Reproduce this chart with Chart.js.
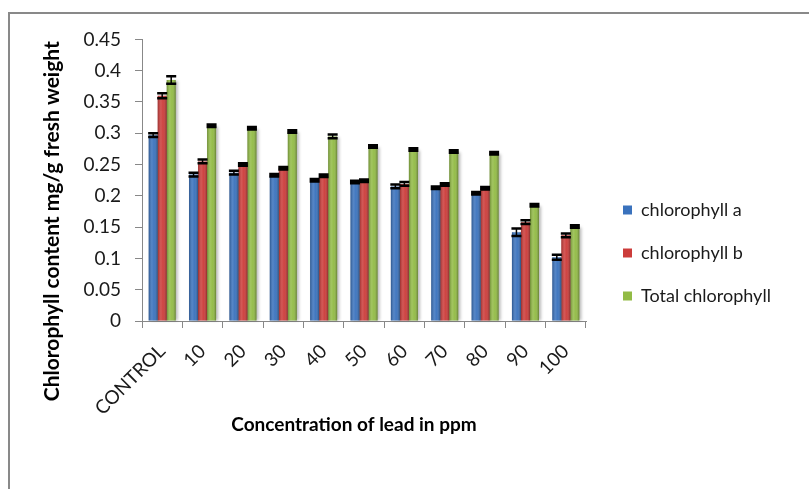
<!DOCTYPE html>
<html>
<head>
<meta charset="utf-8">
<script src="https://cdn.jsdelivr.net/npm/chart.js@4.4.1/dist/chart.umd.min.js"></script>
<style>
  html, body { margin: 0; padding: 0; background: #fff; overflow: hidden; }
  .line { position: absolute; background: #898989; }
  #wrap { position: absolute; left: 10px; top: 14px; width: 799px; height: 475px; }
</style>
</head>
<body>
<div class="line" style="left:8px; top:12px; width:801px; height:2px;"></div>
<div class="line" style="left:8px; top:12px; width:2px; height:477px;"></div>
<div id="wrap"><canvas id="chart"></canvas></div>
<script>
const categories = ['CONTROL', '10', '20', '30', '40', '50', '60', '70', '80', '90', '100'];
const chlA = [0.297, 0.234, 0.237, 0.233, 0.225, 0.222, 0.215, 0.213, 0.204, 0.142, 0.102];
const chlB = [0.360, 0.255, 0.250, 0.244, 0.232, 0.224, 0.219, 0.218, 0.212, 0.158, 0.137];
const chlTotal = [0.385, 0.312, 0.308, 0.303, 0.295, 0.279, 0.274, 0.271, 0.268, 0.185, 0.151];
const errA = [0.003, 0.003, 0.003, 0.002, 0.002, 0.002, 0.003, 0.002, 0.002, 0.006, 0.004];
const errB = [0.004, 0.003, 0.002, 0.002, 0.002, 0.002, 0.003, 0.002, 0.002, 0.003, 0.003];
const errTotal = [0.006, 0.002, 0.002, 0.002, 0.003, 0.002, 0.002, 0.002, 0.002, 0.002, 0.002];
const xTitle = 'Concentration of lead in ppm';
const yTitle = 'Chlorophyll content mg/g fresh weight';

// soft shadow under the bars and a cylinder-like shading over them
const shadePlugin = {
  id: 'shade',
  beforeDatasetsDraw(chart) {
    const ctx = chart.ctx;
    ctx.save();
    ctx.filter = 'blur(1.5px)';
    ctx.fillStyle = 'rgba(0,0,0,0.28)';
    chart.data.datasets.forEach((ds, di) => {
      chart.getDatasetMeta(di).data.forEach(bar => {
        const left = bar.x - bar.width / 2;
        ctx.fillRect(left + 2, bar.y + 1, bar.width, bar.base - bar.y - 1);
      });
    });
    ctx.restore();
  },
  afterDatasetsDraw(chart) {
    const ctx = chart.ctx;
    ctx.save();
    chart.data.datasets.forEach((ds, di) => {
      chart.getDatasetMeta(di).data.forEach(bar => {
        const left = bar.x - bar.width / 2;
        const g = ctx.createLinearGradient(left, 0, left + bar.width, 0);
        g.addColorStop(0, 'rgba(0,0,0,0.25)');
        g.addColorStop(0.35, 'rgba(255,255,255,0.14)');
        g.addColorStop(0.6, 'rgba(255,255,255,0.04)');
        g.addColorStop(1, 'rgba(0,0,0,0.32)');
        ctx.fillStyle = g;
        ctx.fillRect(left, bar.y, bar.width, bar.base - bar.y);
      });
    });
    ctx.restore();
  }
};

const errorBarsPlugin = {
  id: 'errorBars',
  afterDatasetsDraw(chart) {
    const ctx = chart.ctx;
    const yScale = chart.scales.y;
    ctx.save();
    ctx.strokeStyle = '#000';
    chart.data.datasets.forEach((ds, di) => {
      chart.getDatasetMeta(di).data.forEach((bar, i) => {
        const v = ds.data[i];
        const e = ds.errors[i];
        const top = yScale.getPixelForValue(v + e);
        const bot = yScale.getPixelForValue(v - e);
        const half = bar.width / 2 + 0.5;
        ctx.lineWidth = 1.5;
        ctx.beginPath();
        ctx.moveTo(bar.x, top);
        ctx.lineTo(bar.x, bot);
        ctx.stroke();
        ctx.lineWidth = 2.5;
        ctx.beginPath();
        ctx.moveTo(bar.x - half, top);
        ctx.lineTo(bar.x + half, top);
        ctx.moveTo(bar.x - half, bot);
        ctx.lineTo(bar.x + half, bot);
        ctx.stroke();
      });
    });
    ctx.restore();
  }
};

// axis titles are wider than the plot, so they are drawn here instead of by the scales
const axisTitlesPlugin = {
  id: 'axisTitles',
  afterDraw(chart) {
    const ctx = chart.ctx;
    const area = chart.chartArea;
    ctx.save();
    ctx.fillStyle = '#000';
    ctx.textAlign = 'center';
    ctx.textBaseline = 'middle';
    ctx.font = 'bold 19px Lato';
    ctx.fillText(xTitle, (area.left + area.right) / 2 - 10, area.bottom + 104);
    ctx.translate(42, (area.top + area.bottom) / 2 + 41);
    ctx.rotate(-Math.PI / 2);
    ctx.font = 'bold 21px Lato';
    ctx.fillText(yTitle, 0, 0);
    ctx.restore();
  }
};

// keep the legend at a fixed width and move it where the original has it
const legendPlacePlugin = {
  id: 'legendPlace',
  beforeLayout(chart) {
    const lg = chart.legend;
    if (lg && !lg._fixedFit) {
      const origFit = lg.fit;
      lg.fit = function () {
        origFit.call(this);
        this.width = 215;
      };
      lg._fixedFit = true;
    }
  },
  afterLayout(chart) {
    const lg = chart.legend;
    const dx = 613 - (lg.left + 25);
    const dy = 162 - lg.top;
    lg.left += dx; lg.right += dx;
    lg.top += dy; lg.bottom += dy;
  }
};

const tickFont = { family: 'Lato', size: 19 };

new Chart(document.getElementById('chart'), {
  type: 'bar',
  data: {
    labels: categories,
    datasets: [
      { label: 'chlorophyll a', data: chlA, errors: errA, backgroundColor: '#3a72bd' },
      { label: 'chlorophyll b', data: chlB, errors: errB, backgroundColor: '#cc3c3a' },
      { label: 'Total chlorophyll', data: chlTotal, errors: errTotal, backgroundColor: '#92bb45' }
    ]
  },
  options: {
    responsive: true,
    maintainAspectRatio: false,
    animation: false,
    datasets: { bar: { categoryPercentage: 0.67, barPercentage: 1 } },
    layout: { padding: { top: 25, left: 4, right: 8, bottom: 0 } },
    scales: {
      x: {
        grid: { drawOnChartArea: false, drawTicks: true, tickLength: 7, color: '#888', offset: true },
        border: { display: true, color: '#888' },
        ticks: { color: '#1a1a1a', font: tickFont, minRotation: 45, maxRotation: 45, autoSkip: false, padding: 12 },
        afterFit: scale => { scale.height = 168; }
      },
      y: {
        min: 0,
        max: 0.45,
        grid: { drawOnChartArea: false, drawTicks: true, tickLength: 7, color: '#888' },
        border: { display: true, color: '#888' },
        ticks: { stepSize: 0.05, color: '#1a1a1a', font: tickFont, padding: 14,
                 callback: v => String(+v.toFixed(2)) },
        afterFit: scale => { scale.width = 128; }
      }
    },
    plugins: {
      legend: {
        position: 'right',
        align: 'start',
        labels: { color: '#1a1a1a', font: { family: 'Lato', size: 18 }, boxWidth: 9, boxHeight: 9, padding: 25 }
      },
      title: { display: false },
      tooltip: { enabled: false }
    }
  },
  plugins: [shadePlugin, errorBarsPlugin, axisTitlesPlugin, legendPlacePlugin]
});
</script>
</body>
</html>
